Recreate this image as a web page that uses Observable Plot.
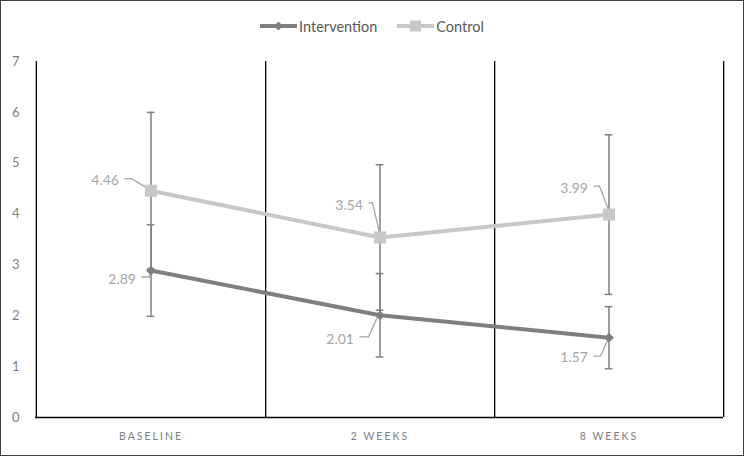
<!DOCTYPE html>
<html>
<head>
<meta charset="utf-8">
<script src="https://cdn.jsdelivr.net/npm/d3@7"></script>
<script src="https://cdn.jsdelivr.net/npm/@observablehq/plot@0.6"></script>
<style>
  html, body { margin: 0; padding: 0; background: #fff; }
  #wrap { position: relative; width: 744px; height: 456px; font-family: Lato, "Open Sans", sans-serif; }
  #wrap::after { content: ""; position: absolute; inset: 0; border: 1px solid #404040; pointer-events: none; }
  #legend { height: 50px; display: flex; justify-content: center; align-items: center; padding-top: 2px; box-sizing: border-box; font-size: 14.5px; color: #595959; }
  .item { display: flex; align-items: center; }
  .item + .item { margin-left: 20px; }
  .item svg { margin-right: 2px; }
  #chart svg [aria-label="x-axis tick label"] text { letter-spacing: 2px; }
</style>
</head>
<body>
<div id="wrap">
  <div id="legend"></div>
  <div id="chart"></div>
</div>
<script>
// ---- data ----
const categories = ["BASELINE", "2 WEEKS", "8 WEEKS"];
const seriesNames = ["Intervention", "Control"];
const interventionMean = [2.89, 2.01, 1.57];
const interventionErr = [0.90, 0.82, 0.61];
const controlMean = [4.46, 3.54, 3.99];
const controlErr = [1.54, 1.43, 1.57];
const yTicks = [0, 1, 2, 3, 4, 5, 6, 7];

// ---- styles ----
const colors = { Intervention: "#7f7f7f", Control: "#c8c8c8" };
const symbols = { Intervention: "diamond2", Control: "square" };
const radii = { Intervention: 4.4, Control: 6.8 };
// label placement (pixel offsets from the point): text end, leader polyline
const labelStyle = {
  Intervention: [
    { tx: -15, ty: 9, leader: [[-9, 7], [-1, 7], [0, 0]] },
    { tx: -26, ty: 24, leader: [[-20, 22], [-11, 22], [-1, 0]] },
    { tx: -21, ty: 20, leader: [[-15, 19], [-8, 19], [0, 1]] }
  ],
  Control: [
    { tx: -32, ty: -10, leader: [[-26, -11.5], [-19, -11.5], [0, 0]] },
    { tx: -17, ty: -32, leader: [[-11, -34], [-7, -34], [0, -4]] },
    { tx: -21, ty: -26, leader: [[-15, -28], [-9, -28], [0, -4]] }
  ]
};

const rows = [];
categories.forEach((c, i) => {
  rows.push({ series: "Intervention", cat: c, i, mean: interventionMean[i], err: interventionErr[i] });
  rows.push({ series: "Control", cat: c, i, mean: controlMean[i], err: controlErr[i] });
});
rows.forEach(r => { r.lo = r.mean - r.err; r.hi = r.mean + r.err; });

const W = 744, H = 406, mL = 35, mR = 21, mT = 11, mB = 39;
const bw = (W - mL - mR) / categories.length;
const capHalf = 4;

// legend
const legend = document.getElementById("legend");
seriesNames.forEach(s => {
  const item = document.createElement("div");
  item.className = "item";
  const col = colors[s];
  const marker = s === "Intervention"
    ? `<path d="M18.5,1.5 L23,6 L18.5,10.5 L14,6 Z" fill="${col}"/>`
    : `<rect x="13" y="0.5" width="11" height="11" fill="${col}"/>`;
  item.innerHTML = `<svg width="37" height="12"><line x1="0" y1="6" x2="37" y2="6" stroke="${col}" stroke-width="4"/>${marker}</svg><span>${s}</span>`;
  legend.appendChild(item);
});

// leader lines as a custom render mark using the plot's scales
function leaders(index, scales) {
  const g = d3.create("svg:g");
  rows.forEach(r => {
    const px = scales.x(r.cat) + scales.x.bandwidth() / 2;
    const py = scales.y(r.mean);
    const pts = labelStyle[r.series][r.i].leader.map(([dx, dy]) => [px + dx, py + dy]);
    g.append("path")
      .attr("d", d3.line()(pts))
      .attr("fill", "none")
      .attr("stroke", "#a5a5a5")
      .attr("stroke-width", 1.3);
  });
  return g.node();
}

const labelMarks = rows.map(r => Plot.text([r], {
  x: "cat", y: "mean", text: d => d.mean.toFixed(2),
  dx: labelStyle[r.series][r.i].tx, dy: labelStyle[r.series][r.i].ty,
  textAnchor: "end", fill: "#a5a5a5", fontSize: 14
}));

const chart = Plot.plot({
  width: W, height: H,
  marginTop: mT, marginBottom: mB, marginLeft: mL, marginRight: mR,
  style: { fontFamily: "Lato, 'Open Sans', sans-serif", background: "transparent" },
  x: { domain: categories, padding: 0, axis: null },
  y: { domain: [0, 7], axis: null },
  marks: [
    Plot.axisY(yTicks, { tickSize: 0, tickPadding: 16, fontSize: 13, fill: "#7f7f7f", label: null, tickFormat: d3.format("d") }),
    Plot.axisX({ tickSize: 0, tickPadding: 15, fontSize: 10.5, fill: "#808080", label: null }),
    // category separators and left/bottom axis lines
    Plot.ruleX(categories, { y1: 0, y2: 7, dx: bw / 2, stroke: "#000", strokeWidth: 1.3 }),
    Plot.ruleX(categories.slice(0, 1), { y1: 0, y2: 7, dx: -bw / 2, stroke: "#000", strokeWidth: 1.3 }),
    Plot.ruleY([0], { stroke: "#000", strokeWidth: 1.3 }),
    // error bars
    Plot.ruleX(rows, { x: "cat", y1: "lo", y2: "hi", stroke: "#7f7f7f", strokeWidth: 1.5 }),
    Plot.tickY(rows, { x: "cat", y: "lo", stroke: "#7f7f7f", strokeWidth: 1.5, insetLeft: bw / 2 - capHalf, insetRight: bw / 2 - capHalf }),
    Plot.tickY(rows, { x: "cat", y: "hi", stroke: "#7f7f7f", strokeWidth: 1.5, insetLeft: bw / 2 - capHalf, insetRight: bw / 2 - capHalf }),
    leaders,
    // lines and markers
    ...seriesNames.map(s => Plot.line(rows.filter(r => r.series === s), {
      x: "cat", y: "mean", stroke: colors[s], strokeWidth: 4, curve: "linear"
    })),
    ...seriesNames.map(s => Plot.dot(rows.filter(r => r.series === s), {
      x: "cat", y: "mean", symbol: symbols[s], r: radii[s], fill: colors[s], stroke: "none"
    })),
    ...labelMarks
  ]
});
document.getElementById("chart").appendChild(chart);
</script>
</body>
</html>
